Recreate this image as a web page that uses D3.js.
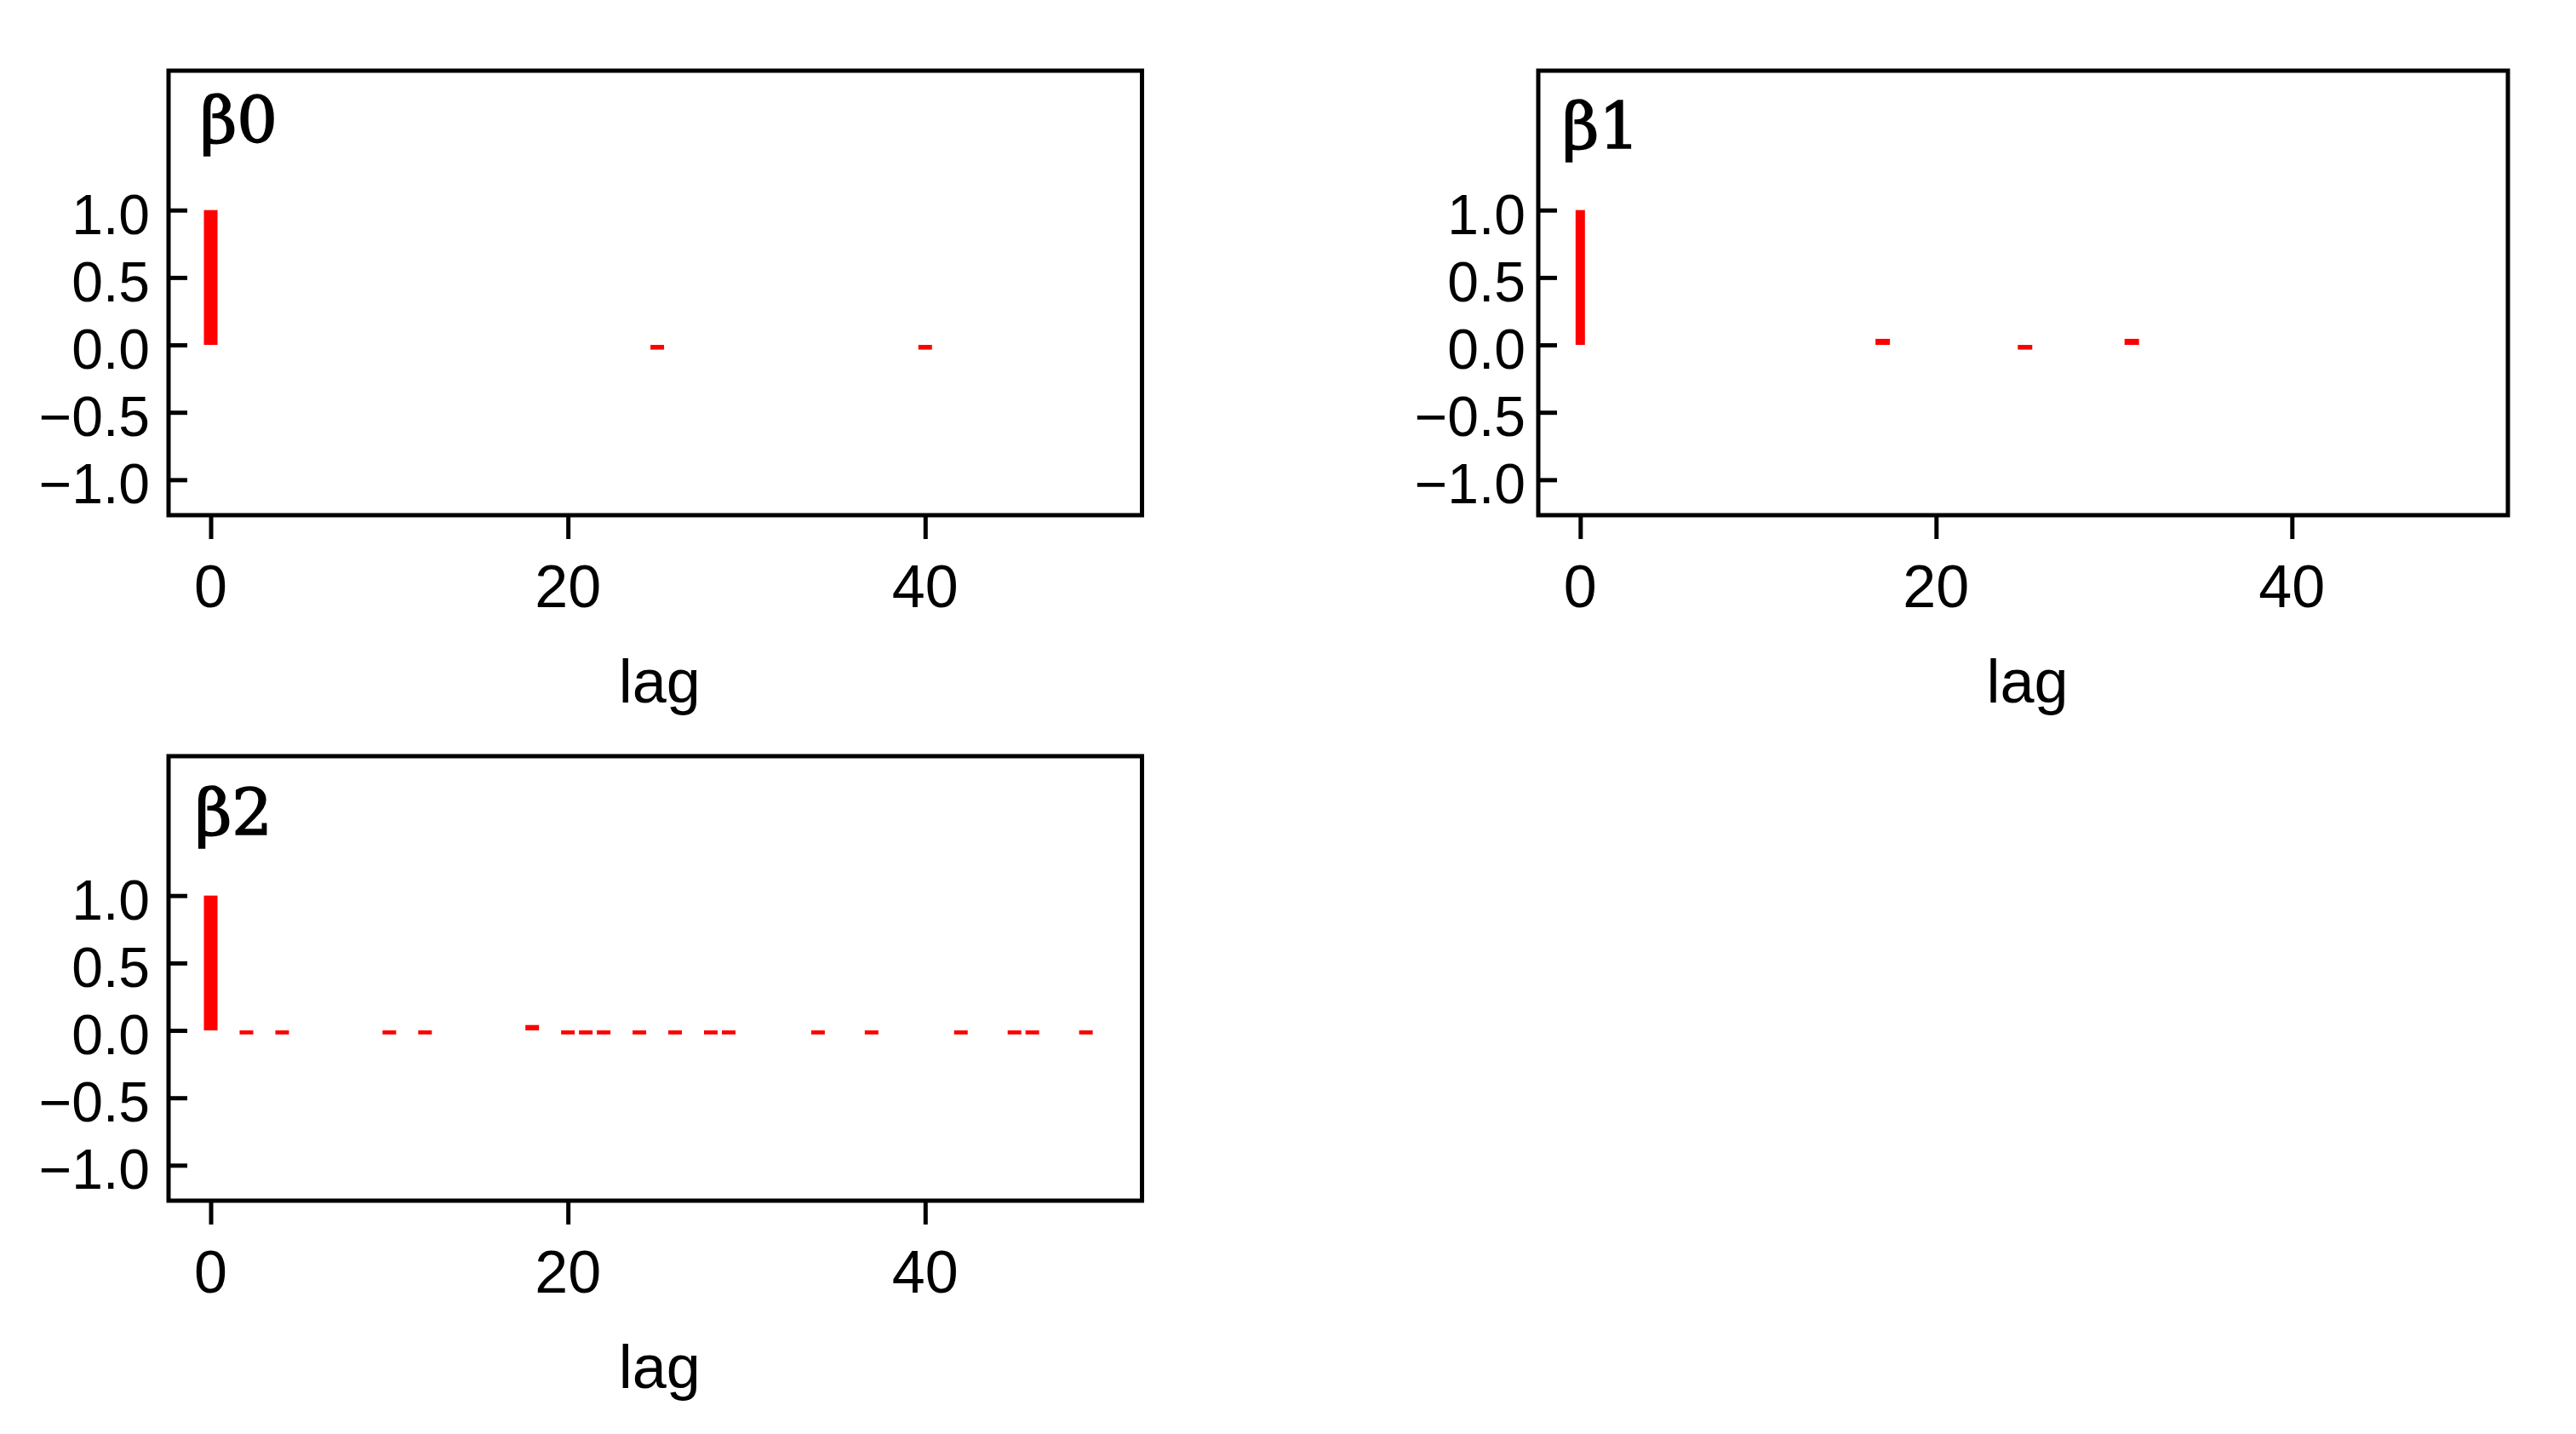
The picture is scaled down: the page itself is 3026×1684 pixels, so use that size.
<!DOCTYPE html>
<html>
<head>
<meta charset="utf-8">
<script src="https://cdn.jsdelivr.net/npm/d3@7"></script>
<style>
  html, body { margin: 0; padding: 0; background: #ffffff; }
  svg { display: block; }
</style>
</head>
<body>
<svg id="chart" width="3026" height="1684"></svg>
<script>
// ---------------- data ----------------
const panelNames = ["β0", "β1", "β2"];

const beta0Lags = [0, 25, 40];
const beta0Acf  = [1.0, -0.035, -0.035];

const beta1Lags = [0, 17, 25, 31];
const beta1Acf  = [1.0, 0.045, -0.035, 0.045];

const beta2Lags = [0, 2, 4, 10, 12, 18, 20, 21, 22, 24, 26, 28, 29, 34, 37, 42, 45, 46, 49];
const beta2Acf  = [1.0, -0.03, -0.03, -0.03, -0.03, 0.04, -0.03, -0.03, -0.03, -0.03,
                   -0.03, -0.03, -0.03, -0.03, -0.03, -0.03, -0.03, -0.03, -0.03];

const xTickValues = [0, 20, 40];
const yTickValues = [1.0, 0.5, 0.0, -0.5, -1.0];
const xAxisTitle = "lag";

// ---------------- layout ----------------
const W = 3026, H = 1684;
const xDomain = [-2.36, 52.14];
const yDomain = [-1.263, 2.034];

const layout = [
  { box: [198, 83, 1341.5, 605],   yLabelX: 176,  titleX: 235,  titleY: 167, lag0W: 16, lagW: 16 },
  { box: [1807, 83, 2946, 605],    yLabelX: 1792, titleX: 1835, titleY: 174, lag0W: 11, lagW: 17 },
  { box: [198, 888, 1341.5, 1410], yLabelX: 176,  titleX: 229,  titleY: 980, lag0W: 16, lagW: 16 }
];

const series = [
  { lags: beta0Lags, acf: beta0Acf },
  { lags: beta1Lags, acf: beta1Acf },
  { lags: beta2Lags, acf: beta2Acf }
];

const svg = d3.select("#chart");
svg.append("rect").attr("width", W).attr("height", H).attr("fill", "#ffffff");

const tickFont = "'Liberation Sans', Arial, sans-serif";

series.forEach((s, i) => {
  const L = layout[i];
  const [x0, y0, x1, y1] = L.box;
  const x = d3.scaleLinear().domain(xDomain).range([x0, x1]);
  const y = d3.scaleLinear().domain(yDomain).range([y1, y0]);

  const g = svg.append("g");

  // bars (acf spikes)
  const pts = s.lags.map((lag, k) => ({ lag, v: s.acf[k] }));
  g.selectAll("rect.bar").data(pts).enter().append("rect")
    .attr("class", "bar")
    .attr("x", d => x(d.lag) - (d.lag === 0 ? L.lag0W : L.lagW) / 2)
    .attr("width", d => (d.lag === 0 ? L.lag0W : L.lagW))
    .attr("y", d => Math.min(y(d.v), y(0)))
    .attr("height", d => Math.abs(y(d.v) - y(0)))
    .attr("fill", "#ff0000");

  // frame
  g.append("rect")
    .attr("x", x0).attr("y", y0)
    .attr("width", x1 - x0).attr("height", y1 - y0)
    .attr("fill", "none").attr("stroke", "#000").attr("stroke-width", 5);

  // y axis (ticks inside the frame)
  const yAxis = d3.axisRight(y).tickValues(yTickValues).tickSize(22).tickFormat("");
  const ya = g.append("g").attr("transform", `translate(${x0},0)`).call(yAxis);
  ya.select(".domain").remove();
  ya.selectAll(".tick line").attr("stroke", "#000").attr("stroke-width", 5);

  g.selectAll("text.ylab").data(yTickValues).enter().append("text")
    .attr("class", "ylab")
    .attr("x", L.yLabelX)
    .attr("y", d => y(d) + 28)
    .attr("text-anchor", "end")
    .attr("font-family", tickFont)
    .attr("font-size", 66)
    .attr("fill", "#000")
    .text(d => d3.format(".1f")(d).replace("-", "\u2212"));

  // x axis (ticks below the frame)
  const xAxis = d3.axisBottom(x).tickValues(xTickValues).tickSize(28).tickFormat("");
  const xa = g.append("g").attr("transform", `translate(0,${y1})`).call(xAxis);
  xa.select(".domain").remove();
  xa.selectAll(".tick line").attr("stroke", "#000").attr("stroke-width", 5);

  g.selectAll("text.xlab").data(xTickValues).enter().append("text")
    .attr("class", "xlab")
    .attr("x", d => x(d))
    .attr("y", y1 + 108)
    .attr("text-anchor", "middle")
    .attr("font-family", tickFont)
    .attr("font-size", 70)
    .attr("fill", "#000")
    .text(d => d);

  g.append("text")
    .attr("x", (x0 + x1) / 2 + 5)
    .attr("y", y1 + 220)
    .attr("text-anchor", "middle")
    .attr("font-family", tickFont)
    .attr("font-size", 72)
    .attr("fill", "#000")
    .text(xAxisTitle);

  // panel title
  g.append("text")
    .attr("x", L.titleX)
    .attr("y", L.titleY)
    .attr("font-family", "'DejaVu Serif', 'Liberation Serif', serif")
    .attr("font-size", 75)
    .attr("fill", "#000")
    .attr("stroke", "#000")
    .attr("stroke-width", 1.6)
    .text(panelNames[i]);
});
</script>
</body>
</html>
